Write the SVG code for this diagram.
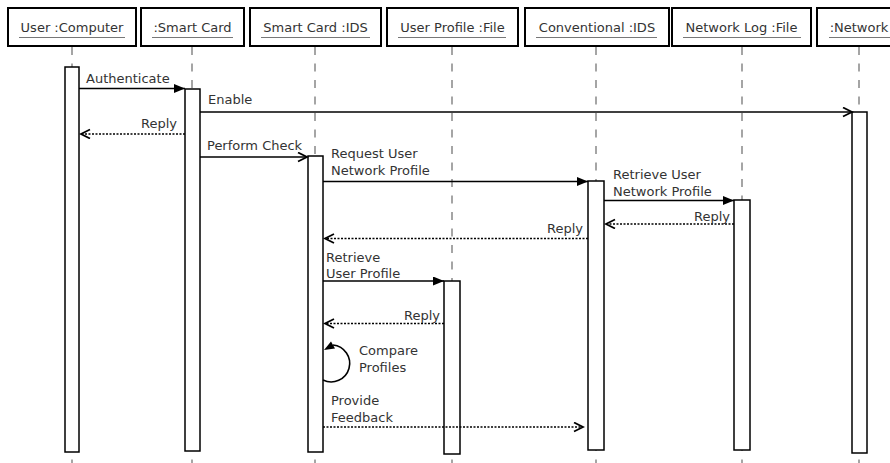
<svg xmlns="http://www.w3.org/2000/svg" width="890" height="463" viewBox="0 0 890 463">
<style>
.hdr{fill:#fff;stroke:#000;stroke-width:2}
.ht{font-family:"DejaVu Sans",sans-serif;font-size:13px;fill:#333;text-anchor:middle}
.ul{stroke:#777;stroke-width:1.2}
.life{stroke:#888;stroke-width:1.5;stroke-dasharray:8 8.5}
.act{fill:#fff;stroke:#000;stroke-width:1.5}
.msg{stroke:#000;stroke-width:1.6;fill:none}
.rep{stroke:#000;stroke-width:1.6;stroke-dasharray:2 1.5;fill:none}
.lbl{font-family:"DejaVu Sans",sans-serif;font-size:13px;fill:#333}
</style>
<defs>
<marker id="fill" markerUnits="userSpaceOnUse" markerWidth="12" markerHeight="10" refX="11" refY="4.5" orient="auto"><path d="M0,0 L11,4.5 L0,9 z" fill="#000"/></marker>
<marker id="open" markerUnits="userSpaceOnUse" markerWidth="12" markerHeight="12" refX="10" refY="5" orient="auto"><path d="M1,0.5 L10,5 L1,9.5" fill="none" stroke="#000" stroke-width="1.8"/></marker>
</defs>
<rect width="890" height="463" fill="#fff"/>
<g id="p-user">
<rect class="hdr" x="8" y="8" width="128" height="38"/>
<text class="ht" x="72" y="32">User :Computer</text><line class="ul" x1="19" y1="37.5" x2="125" y2="37.5"/>
<line class="life" x1="72" y1="47" x2="72" y2="463"/>
<rect class="act" x="65" y="67" width="14" height="385"/>
</g>
<g id="p-smartcard">
<rect class="hdr" x="141" y="8" width="103" height="38"/>
<text class="ht" x="192.5" y="32">:Smart Card</text><line class="ul" x1="152" y1="37.5" x2="233" y2="37.5"/>
<line class="life" x1="192" y1="47" x2="192" y2="463"/>
<rect class="act" x="185" y="89" width="15" height="362"/>
</g>
<g id="p-scids">
<rect class="hdr" x="250" y="8" width="131" height="38"/>
<text class="ht" x="315.5" y="32">Smart Card :IDS</text><line class="ul" x1="261" y1="37.5" x2="370" y2="37.5"/>
<line class="life" x1="315" y1="47" x2="315" y2="463"/>
<rect class="act" x="308" y="156" width="15" height="296"/>
</g>
<g id="p-userprofile">
<rect class="hdr" x="387" y="8" width="131" height="38"/>
<text class="ht" x="452.5" y="32">User Profile :File</text><line class="ul" x1="398" y1="37.5" x2="506" y2="37.5"/>
<line class="life" x1="452" y1="47" x2="452" y2="463"/>
<rect class="act" x="444" y="281" width="16" height="173"/>
</g>
<g id="p-conv">
<rect class="hdr" x="525" y="8" width="144" height="38"/>
<text class="ht" x="597" y="32">Conventional :IDS</text><line class="ul" x1="536" y1="37.5" x2="657" y2="37.5"/>
<line class="life" x1="596" y1="47" x2="596" y2="463"/>
<rect class="act" x="588" y="181" width="16" height="269"/>
</g>
<g id="p-netlog">
<rect class="hdr" x="672" y="8" width="139" height="38"/>
<text class="ht" x="741.5" y="32">Network Log :File</text><line class="ul" x1="683" y1="37.5" x2="801" y2="37.5"/>
<line class="life" x1="742" y1="47" x2="742" y2="463"/>
<rect class="act" x="734" y="200" width="16" height="250"/>
</g>
<g id="p-network">
<rect class="hdr" x="817" y="8" width="90" height="38"/>
<text class="ht" x="859" y="32">:Network</text><line class="ul" x1="829" y1="37.5" x2="890" y2="37.5"/>
<line class="life" x1="859" y1="47" x2="859" y2="463"/>
<rect class="act" x="852" y="112" width="15" height="341"/>
</g>
<g id="connectors">
<line class="msg" x1="79" y1="88.5" x2="185" y2="88.5" marker-end="url(#fill)"/>
<text class="lbl" x="86" y="83">Authenticate</text>
<line class="msg" x1="200" y1="112" x2="852" y2="112" marker-end="url(#open)"/>
<text class="lbl" x="208" y="104">Enable</text>
<line class="rep" x1="185" y1="134" x2="81" y2="134" marker-end="url(#open)"/>
<text class="lbl" x="177" y="128" text-anchor="end">Reply</text>
<line class="msg" x1="200" y1="157" x2="307" y2="157" marker-end="url(#open)"/>
<text class="lbl" x="207" y="150">Perform Check</text>
<line class="msg" x1="323" y1="181.5" x2="588" y2="181.5" marker-end="url(#fill)"/>
<text class="lbl" x="331" y="158">Request User</text>
<text class="lbl" x="331" y="175">Network Profile</text>
<line class="msg" x1="604" y1="200.5" x2="734" y2="200.5" marker-end="url(#fill)"/>
<text class="lbl" x="613" y="179">Retrieve User</text>
<text class="lbl" x="613" y="196">Network Profile</text>
<line class="rep" x1="734" y1="224" x2="606" y2="224" marker-end="url(#open)"/>
<text class="lbl" x="730" y="221" text-anchor="end">Reply</text>
<line class="rep" x1="588" y1="238.5" x2="325" y2="238.5" marker-end="url(#open)"/>
<text class="lbl" x="583" y="233" text-anchor="end">Reply</text>
<line class="msg" x1="323" y1="281" x2="444" y2="281" marker-end="url(#fill)"/>
<text class="lbl" x="326" y="262">Retrieve</text>
<text class="lbl" x="326" y="278">User Profile</text>
<line class="rep" x1="444" y1="323.5" x2="325" y2="323.5" marker-end="url(#open)"/>
<text class="lbl" x="440" y="320" text-anchor="end">Reply</text>
<path class="msg" d="M323,380 A18.5,18.5 0 1 0 333,345"/>
<polygon points="324,350 331,341.5 335,348.5" fill="#000"/>
<text class="lbl" x="359" y="355">Compare</text>
<text class="lbl" x="359" y="372">Profiles</text>
<line class="rep" x1="323" y1="427" x2="583" y2="427" marker-end="url(#open)"/>
<text class="lbl" x="331" y="405">Provide</text>
<text class="lbl" x="331" y="422">Feedback</text>
</g>
</svg>
